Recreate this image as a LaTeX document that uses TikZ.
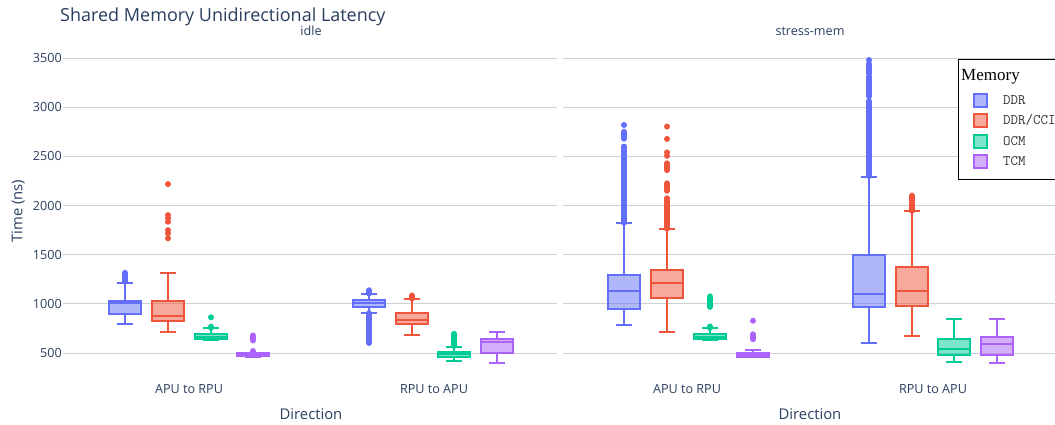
\documentclass[tikz,border=0pt]{standalone}
\usepackage{fontspec}
\setmainfont{Open Sans}
\newfontfamily\legserif{Liberation Serif}
\definecolor{ddr}{HTML}{636EFA}
\definecolor{cci}{HTML}{EF553B}
\definecolor{ocm}{HTML}{00CC96}
\definecolor{tcm}{HTML}{AB63FA}
\definecolor{txt}{HTML}{2A3F5F}
\definecolor{gridc}{HTML}{CDD0D5}
\newcommand\Yv[1]{((#1)-500)*0.09833-353}
% #1 x, #2 colour, #3 lower whisker, #4 q1, #5 median, #6 q3, #7 upper whisker
\newcommand\bpl[7]{%
  \draw[#2, line width=2pt] (#1,{\Yv{#6}}) -- (#1,{\Yv{#7}});
  \draw[#2, line width=2pt] (#1,{\Yv{#4}}) -- (#1,{\Yv{#3}});
  \draw[#2, line width=2pt] ({#1-8},{\Yv{#7}}) -- ({#1+8},{\Yv{#7}});
  \draw[#2, line width=2pt] ({#1-8},{\Yv{#3}}) -- ({#1+8},{\Yv{#3}});
  \draw[#2, line width=2pt, fill=#2, fill opacity=0.5] ({#1-16},{\Yv{#4}}) rectangle ({#1+16},{\Yv{#6}});
  \draw[#2, line width=2pt] ({#1-16},{\Yv{#5}}) -- ({#1+16},{\Yv{#5}});
}
% dense outlier run
\newcommand\orun[4]{\draw[#2, line width=6pt, line cap=round] (#1,{\Yv{#3}}) -- (#1,{\Yv{#4}});}
% single outliers
\newcommand\odots[3]{\foreach \o in {#3} {\fill[#2] (#1,{\Yv{\o}}) circle (3pt);}}
\begin{document}
\begin{tikzpicture}[x=1pt,y=1pt,
  ticklab/.style={text=txt, font=\fontsize{12.6}{14}\selectfont, inner sep=0pt},
  axtitle/.style={text=txt, font=\fontsize{14.8}{16}\selectfont, inner sep=0pt},
  legtxt/.style={text=black!80, font=\ttfamily\fontsize{14.5}{16}\selectfont, anchor=west, inner sep=0pt},
  swatch/.style={line width=2pt, fill opacity=0.5}]
\useasboundingbox (0,0) rectangle (1055,-425);
\fill[white] (0,0) rectangle (1055,-425);
% grid
\foreach \v in {500,1000,1500,2000,2500,3000,3500} {
  \draw[gridc, line width=1pt] (63,{\Yv{\v}}) -- (557,{\Yv{\v}});
  \draw[gridc, line width=1pt] (563,{\Yv{\v}}) -- (1055,{\Yv{\v}});
  \node[ticklab, anchor=east] (tick\v) at (62,{\Yv{\v}}) {\v};
}
% titles
\node[text=txt, font=\fontsize{18}{21}\selectfont, anchor=west, inner sep=0pt] (title) at (60,-17) {Shared Memory Unidirectional Latency};
\node[ticklab] (ptidle) at (311,-31) {idle};
\node[ticklab] (ptstress) at (810,-31) {stress-mem};
\node[axtitle, rotate=90] (ytitle) at (18,-211) {Time (ns)};
\node[axtitle] (xtitle1) at (311,-414) {Direction};
\node[axtitle] (xtitle2) at (810,-414) {Direction};
\node[ticklab] (c1) at (189,-389) {APU to RPU};
\node[ticklab] (c2) at (434,-389) {RPU to APU};
\node[ticklab] (c3) at (687,-389) {APU to RPU};
\node[ticklab] (c4) at (933,-389) {RPU to APU};

% ---------- idle, APU to RPU ----------
\orun{125}{ddr}{1228}{1315}
\bpl{125}{ddr}{798}{893}{1010}{1032}{1215}
\odots{168}{cci}{2218,1903,1870,1835,1750,1717,1666}
\bpl{168}{cci}{717}{825}{876}{1032}{1317}
\orun{211}{ocm}{755}{768}
\odots{211}{ocm}{863}
\bpl{211}{ocm}{628}{640}{665}{693}{751}
\orun{253}{tcm}{628}{678}
\orun{253}{tcm}{505}{520}
\bpl{253}{tcm}{462}{465}{480}{497}{505}
% ---------- idle, RPU to APU ----------
\orun{369}{ddr}{1105}{1138}
\orun{369}{ddr}{602}{905}
\bpl{369}{ddr}{910}{971}{1012}{1036}{1100}
\orun{412}{cci}{1055}{1085}
\bpl{412}{cci}{686}{792}{836}{903}{1049}
\orun{454}{ocm}{572}{695}
\bpl{454}{ocm}{416}{456}{485}{513}{564}
\bpl{497}{tcm}{398}{503}{615}{639}{717}
% ---------- stress-mem, APU to RPU ----------
\orun{624}{ddr}{1825}{2600}
\orun{624}{ddr}{2680}{2750}
\odots{624}{ddr}{2819}
\bpl{624}{ddr}{788}{944}{1134}{1296}{1819}
\orun{667}{cci}{1765}{2073}
\orun{667}{cci}{2150}{2225}
\orun{667}{cci}{2360}{2429}
\odots{667}{cci}{2505,2540,2677,2803}
\bpl{667}{cci}{717}{1056}{1208}{1340}{1758}
\orun{710}{ocm}{755}{770}
\orun{710}{ocm}{970}{1075}
\bpl{710}{ocm}{628}{638}{665}{690}{751}
\orun{753}{tcm}{640}{690}
\odots{753}{tcm}{828}
\bpl{753}{tcm}{456}{458}{480}{497}{530}
% ---------- stress-mem, RPU to APU ----------
\orun{869}{ddr}{2300}{3060}
\orun{869}{ddr}{3110}{3310}
\orun{869}{ddr}{3340}{3440}
\odots{869}{ddr}{3480}
\bpl{869}{ddr}{605}{971}{1097}{1497}{2293}
\orun{912}{cci}{1945}{2100}
\bpl{912}{cci}{676}{978}{1134}{1370}{1940}
\bpl{954}{ocm}{412}{480}{537}{642}{846}
\bpl{997}{tcm}{395}{480}{588}{666}{846}

% ---------- legend ----------
\draw[black, line width=1pt, fill=white] (958,-60) rectangle (1075,-179);
\node[font=\legserif\fontsize{17}{19}\selectfont, anchor=west, inner sep=0pt] (legtitle) at (961,-77) {Memory};
\draw[swatch, ddr, fill=ddr] (974,-94) rectangle (987,-107);
\draw[swatch, cci, fill=cci] (974,-114) rectangle (987,-127);
\draw[swatch, ocm, fill=ocm] (974,-135) rectangle (987,-148);
\draw[swatch, tcm, fill=tcm] (974,-155) rectangle (987,-168);
\node[legtxt] (l1) at (1003,-100.5) {DDR};
\node[legtxt] (l2) at (1003,-120.5) {DDR/CCI};
\node[legtxt] (l3) at (1003,-141.5) {OCM};
\node[legtxt] (l4) at (1003,-161.5) {TCM};
\end{tikzpicture}
\end{document}
